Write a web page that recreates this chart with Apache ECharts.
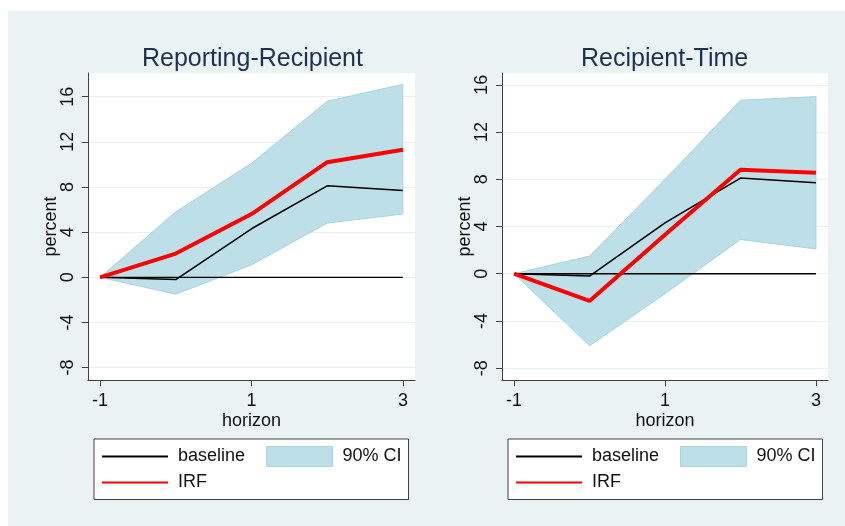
<!DOCTYPE html>
<html>
<head>
<meta charset="utf-8">
<script src="https://cdn.jsdelivr.net/npm/echarts@6/dist/echarts.min.js"></script>
<style>
    html, body { margin: 0; padding: 0; background: #fff; }
    #chart { width: 845px; height: 526px; }
</style>
</head>
<body>
<div id="chart"></div>
<script>
// horizons on the x axis
const horizons = [-1, 0, 1, 2, 3];
const xTicks = [-1, 1, 3];
const yTicks = [-8, -4, 0, 4, 8, 12, 16];
const zeroLine = [0, 0, 0, 0, 0];

// Reporting-Recipient
const rrBaseline = [0, -0.2, 4.3, 8.1, 7.7];
const rrIrf = [0, 2.1, 5.6, 10.2, 11.3];
const rrLower = [0, -1.5, 1.1, 4.8, 5.6];
const rrUpper = [0, 5.8, 10.1, 15.6, 17.1];

// Recipient-Time
const rtBaseline = [0, -0.2, 4.3, 8.1, 7.7];
const rtIrf = [0, -2.3, 3.3, 8.8, 8.55];
const rtLower = [0, -6.1, -1.7, 2.9, 2.1];
const rtUpper = [0, 1.5, 8.0, 14.7, 15.0];

const font = "'Liberation Sans', Arial, sans-serif";
const ciFill = '#BDDFE7';
const ciEdge = '#AAD4E0';
const axisColor = '#404040';

const pairs = (ys) => horizons.map((x, i) => [x, ys[i]]);

function xAxisFor(idx) {
    return {
        type: 'value',
        gridIndex: idx,
        min: -1.16,
        max: 3.16,
        name: 'horizon',
        nameLocation: 'middle',
        nameGap: 32,
        nameMoveOverlap: false,
        nameTextStyle: { fontSize: 18, color: '#111', fontFamily: font },
        axisLine: { onZero: false, lineStyle: { color: axisColor, width: 1 } },
        axisTick: { customValues: xTicks, length: 6, lineStyle: { color: axisColor } },
        axisLabel: { customValues: xTicks, margin: 12, fontSize: 18, color: '#111', fontFamily: font },
        splitLine: { show: false }
    };
}

function yAxisFor(idx, min, max) {
    return {
        type: 'value',
        gridIndex: idx,
        min: min,
        max: max,
        name: 'percent',
        nameLocation: 'middle',
        nameRotate: 90,
        nameGap: 28,
        nameMoveOverlap: false,
        nameTextStyle: { fontSize: 18, color: '#111', fontFamily: font },
        axisLine: { show: true, onZero: false, lineStyle: { color: axisColor, width: 1 } },
        axisTick: { show: true, customValues: yTicks, length: 6, lineStyle: { color: axisColor } },
        axisLabel: { customValues: yTicks, rotate: 90, margin: 11, fontSize: 18, color: '#111', fontFamily: font },
        splitLine: { show: true, lineStyle: { color: '#E6EFF1', width: 1 } }
    };
}

function panelSeries(idx, lower, upper, baseline, irf) {
    return [
        {
            name: '90% CI',
            type: 'custom',
            xAxisIndex: idx,
            yAxisIndex: idx,
            silent: true,
            itemStyle: { color: ciFill },
            encode: { x: 0, y: [1, 2] },
            data: horizons.map((x, i) => [x, lower[i], upper[i]]),
            renderItem: (params, api) => {
                if (params.dataIndex !== 0) {
                    return null;
                }
                const top = horizons.map((x, i) => api.coord([x, upper[i]]));
                const bottom = horizons.map((x, i) => api.coord([x, lower[i]])).reverse();
                return {
                    type: 'polygon',
                    shape: { points: top.concat(bottom) },
                    style: { fill: ciFill, stroke: ciEdge, lineWidth: 1 }
                };
            }
        },
        {
            name: 'zero',
            type: 'line',
            xAxisIndex: idx,
            yAxisIndex: idx,
            symbol: 'none',
            silent: true,
            lineStyle: { color: '#000', width: 1.3 },
            data: pairs(zeroLine)
        },
        {
            name: 'baseline',
            type: 'line',
            xAxisIndex: idx,
            yAxisIndex: idx,
            symbol: 'none',
            itemStyle: { color: '#000' },
            lineStyle: { color: '#000', width: 1.5 },
            data: pairs(baseline)
        },
        {
            name: 'IRF',
            type: 'line',
            xAxisIndex: idx,
            yAxisIndex: idx,
            symbol: 'none',
            itemStyle: { color: '#FF0000' },
            lineStyle: { color: '#FF0000', width: 4 },
            data: pairs(irf)
        }
    ];
}

function legendFor(left) {
    return {
        left: left,
        top: 439,
        width: 330,
        padding: [7, 7, 8, 7],
        itemWidth: 66,
        itemHeight: 20,
        itemGap: 5,
        borderColor: axisColor,
        borderWidth: 1,
        backgroundColor: '#fff',
        selectedMode: false,
        textStyle: { fontSize: 18, color: '#111', fontFamily: font, padding: [0, 0, 0, 5] },
        data: [
            { name: 'baseline', itemStyle: { opacity: 0 }, textStyle: { width: 83, backgroundColor: 'transparent' } },
            { name: '90% CI', icon: 'rect', itemStyle: { color: ciFill, borderColor: ciEdge, borderWidth: 1 } },
            { name: 'IRF', itemStyle: { opacity: 0 } }
        ]
    };
}

const chart = echarts.init(document.getElementById('chart'), null, { renderer: 'canvas' });

chart.setOption({
    animation: false,
    backgroundColor: '#fff',
    graphic: [
        {
            type: 'rect',
            silent: true,
            z: -10,
            shape: { x: 8, y: 11, width: 837, height: 515 },
            style: { fill: '#EAF2F3' }
        }
    ],
    title: [
        { text: 'Reporting-Recipient', left: 137, top: 42, textStyle: { fontSize: 25, fontWeight: 'normal', color: '#1E3050', fontFamily: font } },
        { text: 'Recipient-Time', left: 576, top: 42, textStyle: { fontSize: 25, fontWeight: 'normal', color: '#1E3050', fontFamily: font } }
    ],
    legend: [legendFor(94), legendFor(508)],
    grid: [
        { left: 88, top: 73, width: 327, height: 307, show: true, backgroundColor: '#fff', borderWidth: 0 },
        { left: 502, top: 73, width: 326, height: 307, show: true, backgroundColor: '#fff', borderWidth: 0 }
    ],
    xAxis: [xAxisFor(0), xAxisFor(1)],
    yAxis: [yAxisFor(0, -9.1, 18.1), yAxisFor(1, -9, 17)],
    series: [
        ...panelSeries(0, rrLower, rrUpper, rrBaseline, rrIrf),
        ...panelSeries(1, rtLower, rtUpper, rtBaseline, rtIrf)
    ]
});
</script>
</body>
</html>
